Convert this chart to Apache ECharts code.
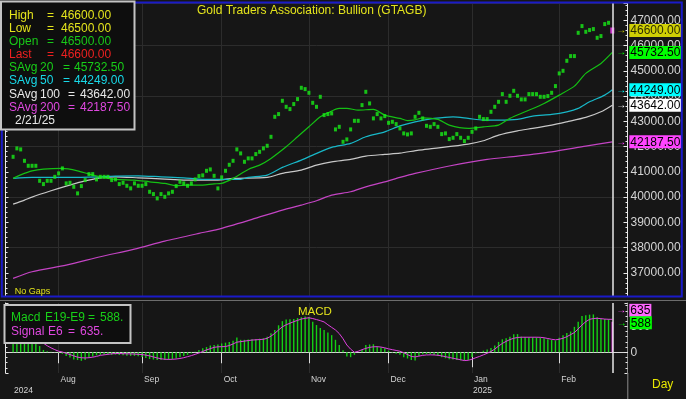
<!DOCTYPE html>
<html><head><meta charset="utf-8">
<script src="https://cdn.jsdelivr.net/npm/echarts@6/dist/echarts.min.js"></script>
<style>html,body{margin:0;padding:0;background:#161616;}#c{width:686px;height:399px;}</style>
</head><body><div id="c"></div>
<script>
// ---------- DATA ----------
const axisStartDate = '2024-07-12';
const axisEndDate = '2025-02-27';
const firstDataDate = '2024-07-16';
const monthNames = ['Jan','Feb','Mar','Apr','May','Jun','Jul','Aug','Sep','Oct','Nov','Dec'];
const chartTitle = 'Gold Traders Association: Bullion (GTAGB)';
const lastBar = {high: 46600, low: 46500, open: 46500, last: 46600, date: '2/21/25'};

// daily closes (one per weekday from 2024-07-16 to 2025-02-21)
const closes = [
41596,41929,41889,41437,41239,41239,41239,40645,40514,40645,40645,40803,40938,41136,40542,40566,40407,40146,40435,40673,
40910,40910,40700,40803,40803,40803,40673,40700,40514,40566,40447,40344,40542,40447,40447,40514,40210,40118,39947,40118,
40011,40146,40210,40435,40605,40542,40447,40542,40700,40831,40860,41041,41096,40843,40344,40780,41041,41279,41437,41889,
41730,41398,41532,41532,41703,41794,41929,42032,42388,43181,43288,43815,43577,43486,43684,43882,44330,44278,44132,43735,
43577,43973,43248,43288,43315,42681,42784,42190,42285,42681,43022,43022,43644,44171,43711,43117,43288,43117,43208,42943,
42983,42891,42721,42523,42483,42523,43181,43339,43117,42824,42784,42891,42784,42495,42523,42297,42349,42495,42349,42218,
42349,42586,42721,43181,43090,43090,43379,43577,43775,44080,43775,44013,44211,44013,43870,43870,44080,44080,44080,43973,
43973,44001,44132,44397,44900,45003,45400,45586,45586,46509,46775,46549,46617,46656,46311,46379,46854,46906,46600];

// moving averages: [day index, value]
const sma20 = [[0,40740],[2,40880],[5,41040],[8,41110],[13,41136],[17,41041],[20,40910],[23,40803],[27,40700],[32,40673],[36,40605],[40,40542],[43,40447],[46,40475],[49,40470],[53,40525],[55,40542],[58,40740],[62,41096],[65,41267],[68,41532],[72,41992],[75,42388],[78,42784],[81,43181],[83,43339],[86,43513],[88,43513],[91,43446],[95,43474],[98,43248],[102,43117],[104,43030],[106,43060],[108,43141],[112,43078],[115,42852],[120,42721],[124,42784],[128,42852],[131,43117],[135,43379],[140,43711],[144,44040],[148,44397],[151,44900],[155,45296],[158,45732.5]];
const sma50 = [[0,40740],[5,40780],[14,40780],[23,40803],[27,40831],[33,40843],[39,40803],[45,40764],[49,40712],[54,40700],[60,40700],[62,40780],[67,40871],[71,41176],[76,41465],[79,41663],[84,41968],[89,42127],[93,42388],[98,42586],[102,42820],[106,42983],[111,43117],[116,43181],[120,43117],[124,43050],[128,43050],[133,43078],[137,43208],[142,43276],[146,43379],[149,43513],[152,43775],[156,44040],[158,44249]];
const sma100 = [[0,39722],[3,39880],[5,40000],[10,40249],[14,40435],[18,40605],[23,40764],[27,40803],[33,40764],[40,40712],[45,40673],[54,40673],[58,40740],[67,40780],[71,40938],[76,41069],[80,41267],[84,41398],[89,41493],[93,41624],[98,41691],[102,41740],[107,41861],[111,41929],[120,42100],[124,42230],[128,42456],[133,42626],[137,42721],[142,42852],[146,42983],[151,43157],[155,43379],[158,43642]];
const sma200 = [[0,36778],[5,37040],[14,37305],[23,37634],[32,37939],[40,38256],[49,38561],[54,38720],[63,39115],[71,39484],[76,39682],[80,39853],[84,40078],[89,40210],[93,40407],[98,40605],[102,40780],[106,40938],[115,41230],[125,41493],[133,41624],[142,41794],[151,42020],[158,42187.5]];

// MACD (E19-E9) and signal (E6), one per day
const macd = [
380,390,400,380,350,310,250,120,45,20,10,5,-10,-30,-70,-100,-140,-150,-165,-150,
-110,-80,-60,-50,-45,-45,-50,-45,-55,-60,-65,-70,-70,-75,-90,-110,-130,-140,-150,-148,
-150,-145,-135,-120,-95,-70,-50,-20,10,45,75,100,130,140,150,170,185,200,220,285,
240,240,245,250,255,262,270,300,365,430,520,600,630,635,640,660,675,690,680,590,
525,470,430,380,330,240,140,40,-80,-95,-50,0,45,140,150,155,110,90,75,30,
-10,-30,-50,-95,-120,-150,-160,-70,-40,-35,-40,-55,-70,-95,-115,-135,-140,-148,-155,-165,
-150,-90,-20,-5,30,55,80,130,200,250,270,300,345,350,300,295,290,290,288,280,
270,250,237,225,280,330,370,400,490,590,700,715,725,730,675,645,640,640,588];
const signal = [
330,340,350,355,350,335,310,250,175,125,85,50,20,5,-20,-45,-70,-95,-105,-110,
-105,-95,-80,-60,-50,-40,-30,-25,-25,-28,-30,-32,-35,-40,-45,-55,-70,-90,-110,-125,
-135,-138,-136,-130,-120,-105,-85,-65,-40,-15,15,45,70,95,105,108,110,130,160,195,
205,215,225,235,240,245,250,270,310,365,430,490,530,560,590,615,640,655,665,650,
630,610,585,530,480,430,360,260,140,60,0,20,50,75,95,105,108,100,85,65,
50,35,20,-10,-45,-80,-90,-75,-60,-52,-50,-52,-58,-70,-85,-100,-115,-130,-145,-160,
-155,-135,-105,-80,-50,-20,15,60,120,170,210,245,270,285,290,290,290,290,290,288,
280,265,250,240,250,270,300,340,380,450,525,590,635,650,655,648,640,636,635];

// ---------- BUILD ----------
function weekdays(s, e) {
  const out = []; let d = new Date(s + 'T00:00:00Z'); const end = new Date(e + 'T00:00:00Z');
  while (d <= end) { const w = d.getUTCDay(); if (w > 0 && w < 6) out.push(d.toISOString().slice(0, 10)); d = new Date(d.getTime() + 86400000); }
  return out;
}
const dates = weekdays(axisStartDate, axisEndDate);
const off = dates.indexOf(firstDataDate);
const n = closes.length;
const lastDate = dates[off + n - 1];
const isMonthStart = i => i > 0 && dates[i].slice(5, 7) !== dates[i - 1].slice(5, 7);
const isYearStart = i => i > 0 && dates[i].slice(0, 4) !== dates[i - 1].slice(0, 4);
const day = i => dates[off + i];
const FONT = '"Liberation Sans", Arial, sans-serif';
const fmt = v => v.toFixed(2);

const C = {
  dot: '#18ee18', yel: '#e4e41c', open: '#18c818', red: '#ee2020',
  g20: '#14c014', c50: '#18b8c8', w100: '#c8c8c8', m200: '#c444c4',
  grid: '#2c2c2c', axis: '#d8d8d8', text: '#d4d4d4', blue: '#1a1ac8'
};

function rich(arrowColor, boxColor) {
  return {
    a: {color: arrowColor, fontSize: 10, fontWeight: 'bold', width: 13, fontFamily: FONT},
    b: {backgroundColor: boxColor, color: '#000', fontSize: 12, lineHeight: 11, padding: [1, 1, 0, 1], fontFamily: FONT}
  };
}
function maSeries(name, arr, color, boxColor) {
  return {
    name, type: 'line', xAxisIndex: 0, yAxisIndex: 0, showSymbol: false, smooth: 0.25,
    lineStyle: {color, width: 1.2}, itemStyle: {color},
    data: arr.map(([i, v]) => [day(i), v]),
    endLabel: {show: true, distance: 4, formatter: p => '{a|→}{b|' + fmt(p.value[1]) + '}', rich: rich(boxColor, boxColor)},
    z: 3
  };
}

const priceData = closes.map((v, i) => i === n - 1 ? {
  value: [day(i), v], symbolSize: [4, 6], itemStyle: {color: '#ff40ff'},
  label: {show: true, position: 'right', distance: 2, formatter: p => '{a|→}{b|' + fmt(p.value[1]) + '}', rich: rich('#e8e800', '#ffff00')}
} : [day(i), v]);

const macdData = macd.map((v, i) => i === n - 1 ? {value: [day(i), v], itemStyle: {color: '#ff40ff'}} : [day(i), v]);

const yMain = {min: 36080, max: 47690};
const yMacd = {min: -400, max: 950};

function rowTexts(y, color, parts) {
  return parts.map(([x, t]) => ({type: 'text', x, y, z: 101, silent: true,
    style: {text: t, fill: color, font: '12px ' + FONT, align: 'left', verticalAlign: 'middle'}}));
}
const legendRows = [
  [15.7, C.yel, [[9, 'High'], [47, '='], [61, fmt(lastBar.high)]]],
  [29.0, C.yel, [[9, 'Low'], [47, '='], [61, fmt(lastBar.low)]]],
  [41.7, C.open, [[9, 'Open'], [47, '='], [61, fmt(lastBar.open)]]],
  [54.3, C.red, [[9, 'Last'], [47, '='], [61, fmt(lastBar.last)]]],
  [67.3, '#18d018', [[9, 'SAvg'], [40, '20'], [63, '='], [74, fmt(sma20[sma20.length - 1][1])]]],
  [80.7, '#18d8e8', [[9, 'SAvg'], [40, '50'], [63, '='], [74, fmt(sma50[sma50.length - 1][1])]]],
  [94.3, '#e8e8e8', [[9, 'SAvg'], [40, '100'], [68, '='], [80, fmt(sma100[sma100.length - 1][1])]]],
  [107.3, '#e048e0', [[9, 'SAvg'], [40, '200'], [68, '='], [80, fmt(sma200[sma200.length - 1][1])]]],
  [120.3, '#e8e8e8', [[15, lastBar.date]]]
];
const macdRows = [
  [317.3, '#18d018', [[11, 'Macd'], [45, 'E19-E9'], [88, '='], [100, macd[n - 1] + '.']]],
  [331.7, '#e048e0', [[11, 'Signal'], [48, 'E6'], [68, '='], [80, signal[n - 1] + '.']]]
];

const graphics = [
  {type: 'rect', z: 50, silent: true, shape: {x: 1.8, y: 2.6, width: 680, height: 293.8}, style: {fill: 'none', stroke: C.blue, lineWidth: 2}},
  {type: 'line', z: 50, silent: true, shape: {x1: 0, y1: 300.5, x2: 686, y2: 300.5}, style: {stroke: '#6c6c6c', lineWidth: 1}},
  {type: 'line', z: 50, silent: true, shape: {x1: 627.8, y1: 373, x2: 627.8, y2: 399}, style: {stroke: '#8c8c8c', lineWidth: 1}},
  {type: 'rect', z: 100, silent: true, shape: {x: 1, y: 1.5, width: 133.5, height: 128}, style: {fill: '#0e0e0e', stroke: '#c4c4c4', lineWidth: 2}},
  {type: 'rect', z: 100, silent: true, shape: {x: 4.5, y: 305, width: 126, height: 38}, style: {fill: '#0e0e0e', stroke: '#c4c4c4', lineWidth: 2}},
  {type: 'text', x: 14.7, y: 292, z: 101, silent: true, style: {text: 'No Gaps', fill: C.yel, font: '9px ' + FONT, align: 'left', verticalAlign: 'middle'}},
  {type: 'text', x: 298, y: 311.7, z: 101, silent: true, style: {text: 'MACD', fill: C.yel, font: '11.5px ' + FONT, align: 'left', verticalAlign: 'middle'}},
  {type: 'text', x: 652, y: 385, z: 101, silent: true, style: {text: 'Day', fill: '#e8e800', font: '12px ' + FONT, align: 'left', verticalAlign: 'middle'}}
];
legendRows.forEach(([y, c, p]) => graphics.push(...rowTexts(y, c, p)));
macdRows.forEach(([y, c, p]) => graphics.push(...rowTexts(y, c, p)));

const vLine = {silent: true, symbol: ['none', 'none'], label: {show: false}, lineStyle: {color: '#e8e8e8', width: 1.5, type: 'solid'}, data: [{xAxis: lastDate}]};

const option = {
  backgroundColor: '#161616',
  animation: false,
  textStyle: {fontFamily: FONT},
  title: {text: chartTitle, left: 197, top: 5, padding: 0, textStyle: {color: C.yel, fontSize: 12, fontWeight: 'normal', fontFamily: FONT}},
  grid: [
    {left: 5.5, right: 58.5, top: 3, height: 293, containLabel: false, outerBoundsMode: 'none'},
    {left: 5.5, right: 58.5, top: 303, height: 70, containLabel: false, outerBoundsMode: 'none'}
  ],
  xAxis: [
    {gridIndex: 0, type: 'category', data: dates, boundaryGap: false,
     axisLine: {show: false}, axisTick: {show: false}, axisLabel: {show: false},
     splitLine: {show: true, interval: i => isMonthStart(i), lineStyle: {color: C.grid, width: 1}}},
    {gridIndex: 1, type: 'category', data: dates, boundaryGap: false,
     axisLine: {show: true, lineStyle: {color: C.axis, width: 1}},
     axisTick: {show: true, interval: i => i === 0 || isMonthStart(i), length: 11, lineStyle: {color: C.axis}},
     axisLabel: {show: true, interval: i => isMonthStart(i), formatter: v => monthNames[+v.slice(5, 7) - 1],
       align: 'left', padding: [0, 0, 0, 2], color: C.text, fontSize: 8.5, margin: 2, fontFamily: FONT},
     splitLine: {show: true, interval: i => isMonthStart(i), lineStyle: {color: C.grid, width: 1}}},
    {gridIndex: 1, type: 'category', data: dates, boundaryGap: false, position: 'bottom', offset: 11,
     axisLine: {show: true, lineStyle: {color: C.axis, width: 1}},
     axisTick: {show: true, interval: i => i === 0 || isYearStart(i), length: 15, lineStyle: {color: C.axis}},
     axisLabel: {show: true, interval: i => i === off || isYearStart(i), formatter: v => v.slice(0, 4),
       align: 'left', padding: [0, 0, 0, 1], color: C.text, fontSize: 8.5, margin: 2, fontFamily: FONT},
     splitLine: {show: false}}
  ],
  yAxis: [
    {gridIndex: 0, type: 'value', position: 'right', min: yMain.min, max: yMain.max, splitNumber: 10,
     axisLine: {show: true, lineStyle: {color: '#e8e8e8'}},
     axisTick: {show: true, inside: true, length: 4, lineStyle: {color: '#e8e8e8'}},
     minorTick: {show: true, splitNumber: 5, length: 2, lineStyle: {color: '#e8e8e8'}},
     axisLabel: {formatter: v => fmt(v), color: C.text, fontSize: 12, margin: 3, showMinLabel: false, showMaxLabel: false, fontFamily: FONT},
     splitLine: {show: false}},
    {gridIndex: 0, type: 'value', position: 'left', min: yMain.min, max: yMain.max, splitNumber: 10,
     axisLine: {show: true, lineStyle: {color: '#e8e8e8'}},
     axisTick: {show: true, inside: true, length: 3, lineStyle: {color: '#e8e8e8'}},
     minorTick: {show: true, splitNumber: 5, length: 2, lineStyle: {color: '#e8e8e8'}},
     axisLabel: {show: false}, splitLine: {show: false}},
    {gridIndex: 0, type: 'value', position: 'right', min: yMain.min, max: yMain.max, splitNumber: 5,
     axisLine: {show: false}, axisTick: {show: false}, axisLabel: {show: false},
     splitLine: {show: true, lineStyle: {color: C.grid, width: 1}}},
    {gridIndex: 1, type: 'value', position: 'right', min: yMacd.min, max: yMacd.max, splitNumber: 2,
     axisLine: {show: true, lineStyle: {color: '#8c8c8c'}},
     axisTick: {show: true, inside: true, length: 3, lineStyle: {color: '#e8e8e8'}},
     minorTick: {show: true, splitNumber: 5, length: 2, lineStyle: {color: '#e8e8e8'}},
     axisLabel: {color: C.text, fontSize: 12, margin: 3, showMinLabel: false, showMaxLabel: false, fontFamily: FONT},
     splitLine: {show: false}},
    {gridIndex: 1, type: 'value', position: 'left', min: yMacd.min, max: yMacd.max, splitNumber: 2,
     axisLine: {show: true, lineStyle: {color: '#e8e8e8'}},
     axisTick: {show: true, inside: true, length: 3, lineStyle: {color: '#e8e8e8'}},
     minorTick: {show: true, splitNumber: 5, length: 2, lineStyle: {color: '#e8e8e8'}},
     axisLabel: {show: false}, splitLine: {show: false}}
  ],
  series: [
    maSeries('SAvg 200', sma200, C.m200, '#ff44ff'),
    maSeries('SAvg 100', sma100, C.w100, '#ffffff'),
    maSeries('SAvg 50', sma50, C.c50, '#00ffff'),
    maSeries('SAvg 20', sma20, C.g20, '#00ff00'),
    {name: 'Price', type: 'scatter', xAxisIndex: 0, yAxisIndex: 0, symbol: 'rect', symbolSize: [3, 4],
     itemStyle: {color: C.dot}, data: priceData, markLine: vLine, z: 4},
    {name: 'MACD', type: 'bar', xAxisIndex: 1, yAxisIndex: 3, barWidth: 1.4, itemStyle: {color: '#14d014'},
     data: macdData, markLine: vLine,
     markPoint: {symbol: 'rect', symbolSize: 1, itemStyle: {color: 'rgba(0,0,0,0)'},
       data: [{coord: [lastDate, macd[n - 1]], label: {show: true, position: 'right', distance: 4, offset: [0, 1],
         formatter: p => '{a|→}{b|' + macd[n - 1] + '}', rich: rich('#00ff00', '#00ff00')}}]}},
    {name: 'Signal', type: 'line', xAxisIndex: 1, yAxisIndex: 3, showSymbol: false,
     lineStyle: {color: '#e040e0', width: 1}, itemStyle: {color: '#e040e0'},
     data: signal.map((v, i) => [day(i), v]),
     endLabel: {show: true, distance: 4, offset: [0, -9], formatter: p => '{a|→}{b|' + p.value[1] + '}', rich: rich('#ff55ff', '#ff66ff')}}
  ],
  graphic: {elements: graphics}
};

const chart = echarts.init(document.getElementById('c'), null, {renderer: 'canvas', width: 686, height: 399});
chart.setOption(option);
</script>
</body></html>
